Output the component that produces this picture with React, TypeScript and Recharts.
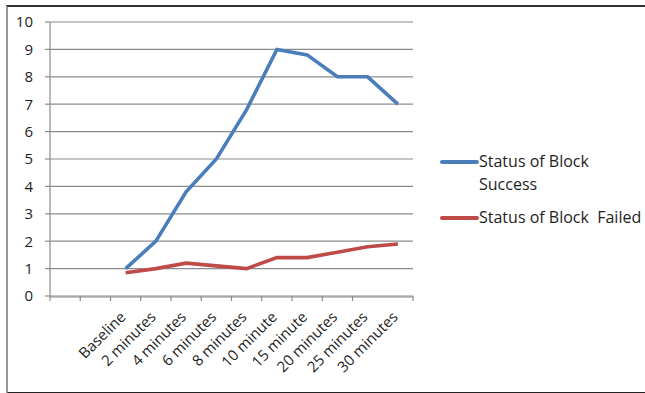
import { LineChart, Line, XAxis, YAxis, CartesianGrid } from 'recharts';

const categories = ['', ' ', 'Baseline', '2 minutes', '4 minutes', '6 minutes', '8 minutes', '10 minute', '15 minute', '20 minutes', '25 minutes', '30 minutes'];
const success = [null, null, 1, 2, 3.8, 5, 6.8, 9, 8.8, 8, 8, 7];
const failed = [null, null, 0.85, 1, 1.2, 1.1, 1, 1.4, 1.4, 1.6, 1.8, 1.9];
const seriesNames = ['Status of Block Success', 'Status of Block  Failed'];
const seriesColors = ['#4a7ebb', '#be4b48'];
const yTicks = [0, 1, 2, 3, 4, 5, 6, 7, 8, 9, 10];
const boundaryTicks = [-0.5, 0.5, 1.5, 2.5, 3.5, 4.5, 5.5, 6.5, 7.5, 8.5, 9.5, 10.5, 11.5];

const data = categories.map((name, i) => ({ name, idx: i, success: success[i], failed: failed[i] }));

const font = '"Open Sans", sans-serif';
const axisGray = '#8c8c8c';

const XTick = ({ x, y, payload }: any) => {
  const ax = x + 1;
  const ay = y + 13;
  return (
    <text x={ax} y={ay} textAnchor="end" transform={`rotate(-45 ${ax} ${ay})`}
      fontFamily={font} fontSize={15} fill="#1e1e1e">
      {payload.value}
    </text>
  );
};

const NoLabel = () => <g />;

export default function App() {
  return (
    <div style={{ position: 'fixed', left: 0, top: 0, width: 645, height: 393, background: '#fff' }}>
      <div style={{ position: 'absolute', left: 6, top: 5, width: 645, height: 385, borderTop: '2px solid #333', borderLeft: '2px solid #9a9a9a', borderBottom: '2px solid #222' }} />
      <LineChart width={645} height={393} data={data} margin={{ top: 22, right: 232, left: 0, bottom: 0 }}>
        <CartesianGrid xAxisId="z" vertical={false} stroke={axisGray} strokeWidth={1.2} />
        <XAxis xAxisId="z" dataKey="name" scale="band" interval={0} tickLine={false} axisLine={{ stroke: axisGray, strokeWidth: 1.2 }}
          tick={<XTick />} height={96} />
        <XAxis xAxisId="bounds" dataKey="idx" type="number" domain={[-0.5, 11.5]} ticks={boundaryTicks} tick={<NoLabel />}
          axisLine={false} tickLine={{ stroke: axisGray, strokeWidth: 1.2 }} tickSize={5} height={1} allowDataOverflow />
        <YAxis domain={[0, 10]} ticks={yTicks} width={50} tickSize={5} tickMargin={12}
          axisLine={{ stroke: axisGray, strokeWidth: 1.2 }} tickLine={{ stroke: axisGray, strokeWidth: 1.2 }}
          tick={{ fontFamily: font, fontSize: 15, fill: '#1e1e1e' }} />
        <Line xAxisId="z" dataKey="success" name={seriesNames[0]} stroke={seriesColors[0]} strokeWidth={3.6} dot={false} isAnimationActive={false} />
        <Line xAxisId="z" dataKey="failed" name={seriesNames[1]} stroke={seriesColors[1]} strokeWidth={3.6} dot={false} isAnimationActive={false} />
      </LineChart>
      <div style={{ position: 'absolute', left: 440, top: 150, fontFamily: font, fontSize: 16, color: '#1e1e1e' }}>
        {seriesNames.map((n, i) => (
          <div key={n} style={{ display: 'flex', alignItems: 'flex-start', marginBottom: 10 }}>
            <span style={{ width: 39, height: 3.5, background: seriesColors[i], marginTop: 10, borderRadius: 2 }} />
            <span style={{ width: i === 0 ? 125 : undefined, whiteSpace: i === 0 ? 'normal' : 'pre', lineHeight: '23px' }}>{n}</span>
          </div>
        ))}
      </div>
    </div>
  );
}
